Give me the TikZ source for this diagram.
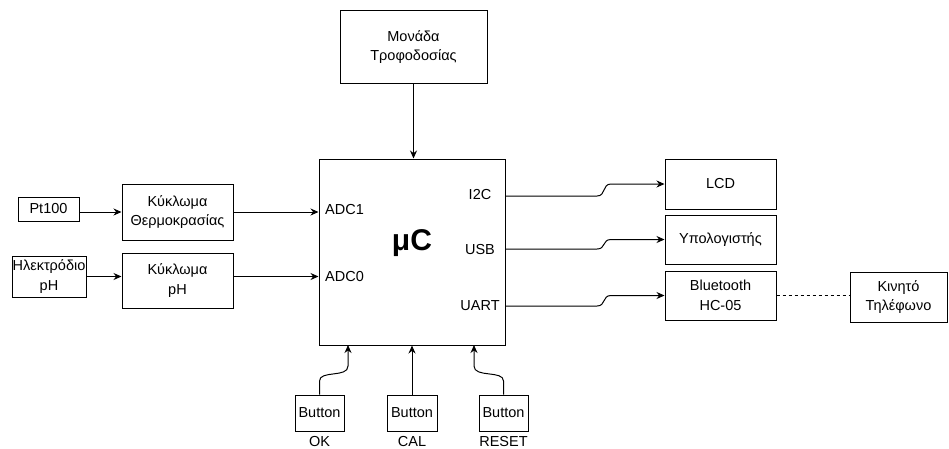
\documentclass[tikz,border=0pt]{standalone}
\usepackage{fontspec}
\setmainfont{Liberation Sans}
\usetikzlibrary{arrows.meta}
\begin{document}
\begin{tikzpicture}[x=1pt,y=-1pt,
  every node/.style={font=\fontsize{14.5}{19.5}\selectfont},
  box/.style={draw, line width=1pt, align=center, inner sep=0pt},
  lbl/.style={inner sep=0pt, align=center},
  arr/.style={line width=1pt, -{Stealth[length=8pt,width=7pt]}},
  ln/.style={line width=1pt}]
\useasboundingbox[fill=white] (0,0) rectangle (949,448);
% boxes
\node[box, minimum width=147pt, minimum height=73pt] (pwr) at (413.5,47) {Μονάδα\\Τροφοδοσίας};
\node[box, minimum width=186pt, minimum height=186pt] (mc) at (412,252) {};
\node[box, minimum width=61pt, minimum height=24pt] (pt) at (48.5,209) {Pt100};
\node[box, minimum width=111pt, minimum height=56pt] (kth) at (177.5,212) {Κύκλωμα\\Θερμοκρασίας};
\node[box, minimum width=74pt, minimum height=41pt] (el) at (49,276.5) {};
\node[lbl] (elt) at (el.center) {Ηλεκτρόδιο\\pH};
\node[box, minimum width=111pt, minimum height=55pt] (kph) at (177.5,280.5) {Κύκλωμα\\pH};
\node[box, minimum width=111pt, minimum height=50pt] (lcd) at (720.5,184) {LCD};
\node[box, minimum width=111pt, minimum height=49pt] (pc) at (720.5,239.5) {Υπολογιστής};
\node[box, minimum width=111pt, minimum height=49pt] (bt) at (720.5,295.5) {Bluetooth\\HC-05};
\node[box, minimum width=97pt, minimum height=50pt] (ph) at (898.5,297) {Κινητό\\Τηλέφωνο};
\node[box, minimum width=49pt, minimum height=36pt] (ok) at (319.5,413) {Button};
\node[box, minimum width=50pt, minimum height=36pt] (cal) at (412,413) {Button};
\node[box, minimum width=49pt, minimum height=36pt] (rst) at (503.5,413) {Button};
% labels
\node[lbl] (okl) at (319.5,441) {OK};
\node[lbl] (call) at (412,441) {CAL};
\node[lbl] (rstl) at (503.5,441) {RESET};
\node[lbl, font=\fontsize{30}{32}\selectfont\bfseries] (mu) at (412,243) {μC};
\node[lbl, anchor=west] (adc1) at (325,210) {ADC1};
\node[lbl, anchor=west] (adc0) at (325,276) {ADC0};
\node[lbl] (i2c) at (480,195) {I2C};
\node[lbl] (usb) at (480,249) {USB};
\node[lbl] (uart) at (480,306) {UART};
% coordinates
\coordinate (pi2c) at (505,196);
\coordinate (pusb) at (505,249);
\coordinate (puart) at (505,306);
\coordinate (okin) at (348,345);
\coordinate (rstin) at (474,345);
% connectors
\draw[arr] (pwr.south) -- (pwr.south |- mc.north);
\draw[arr] (pt.east |- kth.west) -- (kth.west);
\draw[arr] (kth.east) -- (kth.east -| mc.west);
\draw[arr] (el.east) -- (el.east -| kph.west);
\draw[arr] (el.east -| kph.east) -- (el.east -| mc.west);
\draw[arr] (pi2c) -- (597,196) .. controls (606,196) and (602,184) .. (611,184) -- (lcd.west);
\draw[arr] (pusb) -- (597,249) .. controls (606,249) and (602,239.5) .. (611,239.5) -- (pc.west);
\draw[arr] (puart) -- (597,306) .. controls (606,306) and (602,295.5) .. (611,295.5) -- (bt.west);
\draw[ln, dashed] (bt.east) -- (bt.east -| ph.west);
\draw[arr] (ok.north) -- (319.5,381) .. controls (319.5,370) and (348,378) .. (348,366) -- (okin);
\draw[arr] (cal.north) -- (cal.north |- mc.south);
\draw[arr] (rst.north) -- (503.5,381) .. controls (503.5,370) and (474,378) .. (474,366) -- (rstin);
\end{tikzpicture}
\end{document}
